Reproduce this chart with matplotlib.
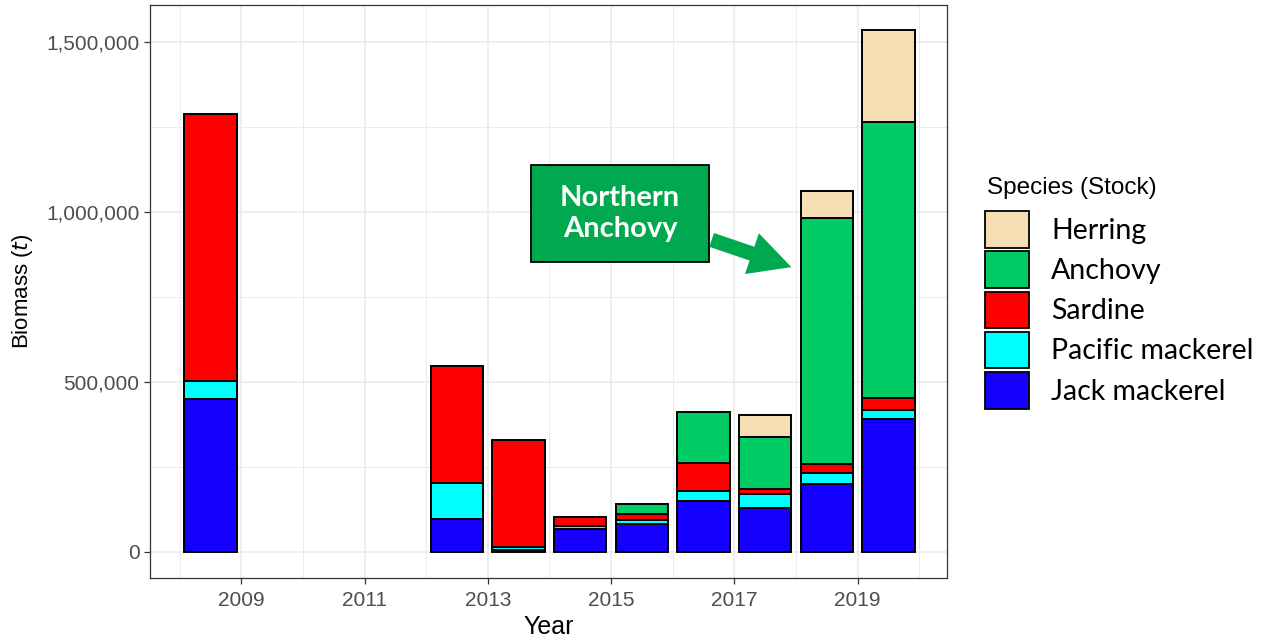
import numpy as np
import matplotlib
matplotlib.use("Agg")
import matplotlib.pyplot as plt
from matplotlib.patches import Patch, Rectangle, FancyArrowPatch
from matplotlib.ticker import FuncFormatter, MultipleLocator

# survey years and biomass (t) by species
years = [2008, 2012, 2013, 2014, 2015, 2016, 2017, 2018, 2019]
jack = [450000, 96000, 5000, 67000, 83000, 151000, 128000, 200000, 391000]
pacific = [54000, 108000, 10000, 9000, 11000, 28000, 42000, 32000, 27000]
sardine = [784000, 343000, 315000, 28000, 17000, 82000, 14000, 26000, 34000]
anchovy = [0, 0, 0, 0, 30000, 152000, 154000, 724000, 813000]
herring = [0, 0, 0, 0, 0, 0, 66000, 80000, 270000]

species = ["Jack mackerel", "Pacific mackerel", "Sardine", "Anchovy", "Herring"]
colors = ["#1500FF", "#00FFFF", "#FF0000", "#00CC66", "#F5DEB3"]

W, H = 1269, 642
fig = plt.figure(figsize=(W / 100, H / 100), dpi=100)
ax = fig.add_axes([150 / W, (H - 578) / H, 797 / W, 573 / H])

x = np.array(years) + 0.5
bottom = np.zeros(len(years))
for vals, col, name in zip([jack, pacific, sardine, anchovy, herring], colors, species):
    v = np.array(vals, dtype=float)
    m = v > 0
    ax.bar(x[m], v[m], bottom=bottom[m], width=0.85, color=col,
           edgecolor="black", linewidth=1.4, zorder=3)
    bottom += v

ax.set_xlim(2007.52, 2020.45)
ax.set_ylim(-76500, 1609000)
ax.xaxis.set_major_locator(MultipleLocator(2, offset=1))
ax.xaxis.set_minor_locator(MultipleLocator(2))
ax.yaxis.set_major_locator(MultipleLocator(500000))
ax.yaxis.set_minor_locator(MultipleLocator(250000, offset=250000))
ax.yaxis.set_major_formatter(FuncFormatter(lambda v, p: f"{int(v):,}"))
ax.xaxis.set_major_formatter(FuncFormatter(lambda v, p: f"{int(round(v))}"))

ax.grid(which="major", color="#EBEBEB", linewidth=1.2, zorder=0)
ax.grid(which="minor", color="#EBEBEB", linewidth=0.7, zorder=0)
ax.set_axisbelow(True)
for s in ax.spines.values():
    s.set_color("#333333")
    s.set_linewidth(0.9)
ax.tick_params(which="major", length=4, width=0.9, color="#333333",
               labelsize=15, labelcolor="#4D4D4D")
ax.tick_params(axis="x", pad=5)
ax.tick_params(which="minor", length=0)
for lab in ax.get_xticklabels() + ax.get_yticklabels():
    lab.set_family("Liberation Sans")

ax.set_xlabel("Year", fontsize=18, family="Liberation Sans", labelpad=4)
ax.set_ylabel("Biomass ($\\it{t}$)", fontsize=16, family="Liberation Sans", labelpad=8)

# legend (title drawn separately for spacing)
fig.text(987 / W, 1 - 188 / H, "Species (Stock)", ha="left", va="center",
         fontsize=17.5, family="Liberation Sans")
handles = [Patch(facecolor=c, edgecolor="black", linewidth=1.3) for c in colors[::-1]]
leg = fig.legend(handles, species[::-1], loc="upper left",
                 bbox_to_anchor=(985 / W, 1 - 211 / H), frameon=False,
                 prop={"family": "Lato", "size": 20.5},
                 handlelength=1.55, handleheight=1.6, labelspacing=0.13,
                 handletextpad=0.77, borderpad=0, borderaxespad=0)

# callout box with arrow
bx0, by0, bx1, by1 = 531, 165, 709, 262
fig.add_artist(Rectangle((bx0 / W, 1 - by1 / H), (bx1 - bx0) / W, (by1 - by0) / H,
                         transform=fig.transFigure, facecolor="#00A84F",
                         edgecolor="black", linewidth=1.3, zorder=5))
fig.text((bx0 + bx1) / 2 / W, 1 - (by0 + by1) / 2 / H, "Northern\nAnchovy",
         ha="center", va="center", color="white", fontsize=21,
         fontweight="bold", family="Lato", linespacing=1.2, zorder=6)
fig.add_artist(FancyArrowPatch(
    (709 / W, 1 - 239 / H), (794 / W, 1 - 268 / H), transform=fig.transFigure,
    arrowstyle="simple,head_width=31,head_length=30,tail_width=10.5",
    mutation_scale=1, color="#00A84F", linewidth=0, zorder=4))

fig.savefig("out.png", dpi=100)
